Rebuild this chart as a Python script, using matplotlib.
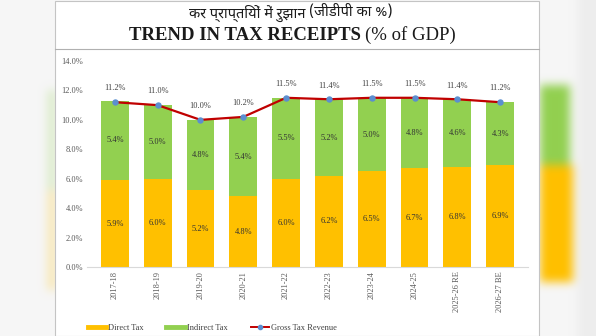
import matplotlib
matplotlib.use('Agg')
import matplotlib.pyplot as plt
from matplotlib.lines import Line2D
from matplotlib.patches import Rectangle
import numpy as np

# data
years = ['2017-18', '2018-19', '2019-20', '2020-21', '2021-22', '2022-23',
         '2023-24', '2024-25', '2025-26 RE', '2026-27 BE']
direct_tax = [5.9, 6.0, 5.2, 4.8, 6.0, 6.2, 6.5, 6.7, 6.8, 6.9]
indirect_tax = [5.4, 5.0, 4.8, 5.4, 5.5, 5.2, 5.0, 4.8, 4.6, 4.3]
gross_tax = [11.2, 11.0, 10.0, 10.2, 11.5, 11.4, 11.5, 11.5, 11.4, 11.2]
yticks = [0, 2, 4, 6, 8, 10, 12, 14]

ORANGE = '#FFC000'
GREEN = '#92D050'
RED = '#C00000'
BLUE = '#5B8FD0'
SERIF = 'Liberation Serif'
HINDI = ['Noto Sans Devanagari', 'DejaVu Sans']

W, H = 596, 336


def box(a, r, axis):
    n = a.shape[axis]
    pad = [(0, 0)] * a.ndim
    pad[axis] = (r + 1, r)
    c = np.cumsum(np.pad(a, pad, mode='edge'), axis=axis)
    hi = np.take(c, np.arange(2 * r + 1, 2 * r + 1 + n), axis=axis)
    lo = np.take(c, np.arange(0, n), axis=axis)
    return (hi - lo) / (2 * r + 1)


def rgb(h):
    return np.array(matplotlib.colors.to_rgb(h))


#### blurred photo background around the slide ####
bg = np.ones((H, W, 3)) * 0.965
bg[:, 578:] = 0.93
bg[85:165, 540:570] = rgb(GREEN)
bg[165:282, 540:573] = rgb(ORANGE)
bg[90:190, 48:56] = 0.3 * rgb(GREEN) + 0.7 * 0.965
bg[190:290, 48:56] = 0.3 * rgb(ORANGE) + 0.7 * 0.965
for _ in range(3):
    bg = box(bg, 4, 0)
    bg = box(bg, 4, 1)

fig = plt.figure(figsize=(W / 100, H / 100), dpi=100)
bga = fig.add_axes([0, 0, 1, 1])
bga.imshow(bg, extent=(0, W, H, 0), aspect='auto', interpolation='bilinear')
bga.set_xlim(0, W)
bga.set_ylim(H, 0)
bga.axis('off')
# white slide panel
bga.add_patch(Rectangle((55, 1), 484, 335, facecolor='white', edgecolor='#c4c4c4', lw=0.8))
bga.plot([55, 539], [49, 49], color='#b0b0b0', lw=0.8)

#### titles ####
fig.text(305 / W, 1 - 13 / H, 'कर प्राप्तियों में रुझान', family=HINDI, fontweight='bold',
         fontsize=10.5, ha='right', va='center', color='#1a1a1a')
fig.text(309 / W, 1 - 13 / H, '(जीडीपी का %)', family=HINDI, fontsize=10.5,
         ha='left', va='center', color='#1a1a1a')
fig.text(361 / W, 1 - 35 / H, 'TREND IN TAX RECEIPTS', family=SERIF, fontweight='bold',
         fontsize=13.5, ha='right', va='center', color='#1a1a1a')
fig.text(365 / W, 1 - 35 / H, '(% of GDP)', family=SERIF, fontsize=13.5,
         ha='left', va='center', color='#1a1a1a')

#### chart ####
ax = fig.add_axes([87 / W, 1 - 267 / H, 441 / W, 206 / H])
ax.set_facecolor('none')
x = np.arange(len(years))
ax.bar(x, direct_tax, width=0.65, color=ORANGE, label='Direct Tax')
ax.bar(x, indirect_tax, width=0.65, bottom=direct_tax, color=GREEN, label='Indirect Tax')
ax.plot(x, gross_tax, color=RED, lw=1.6, marker='o', ms=3.6,
        mfc=BLUE, mec=BLUE, label='Gross Tax Revenue', zorder=3)

for i in range(len(years)):
    ax.text(x[i], direct_tax[i] / 2, '{:.1f}%'.format(direct_tax[i]), ha='center', va='center',
            family=SERIF, fontsize=6, color='#333333')
    ax.text(x[i], direct_tax[i] + indirect_tax[i] / 2, '{:.1f}%'.format(indirect_tax[i]),
            ha='center', va='center', family=SERIF, fontsize=6, color='#333333')
    ax.annotate('{:.1f}%'.format(gross_tax[i]), (x[i], gross_tax[i]), xytext=(0, 7),
                textcoords='offset points', ha='center', va='bottom',
                family=SERIF, fontsize=6, color='#404040')

ax.set_xlim(-0.65, 9.65)
ax.set_ylim(0, 14)
ax.set_yticks(yticks)
ax.set_yticklabels(['{:.1f}%'.format(v) for v in yticks], family=SERIF, fontsize=6, color='#595959')
ax.set_xticks(x)
ax.set_xticklabels(years, rotation=90, family=SERIF, fontsize=6, color='#595959')
ax.tick_params(length=0, pad=3)
for s in ['top', 'right', 'left']:
    ax.spines[s].set_visible(False)
ax.spines['bottom'].set_color('#d9d9d9')
ax.spines['bottom'].set_linewidth(0.8)

handles = [Line2D([], [], color=ORANGE, lw=3.5),
           Line2D([], [], color=GREEN, lw=3.5),
           Line2D([], [], color=RED, lw=1.4, marker='o', ms=3, mfc=BLUE, mec=BLUE)]
fig.legend(handles, ['Direct Tax', 'Indirect Tax', 'Gross Tax Revenue'], ncol=3,
           loc='center left', bbox_to_anchor=(80 / W, 1 - 328 / H), frameon=False,
           prop={'family': SERIF, 'size': 6}, labelcolor='#404040', handlelength=2.2,
           handletextpad=0.3, columnspacing=2.7)

fig.savefig('out.png', dpi=100)
